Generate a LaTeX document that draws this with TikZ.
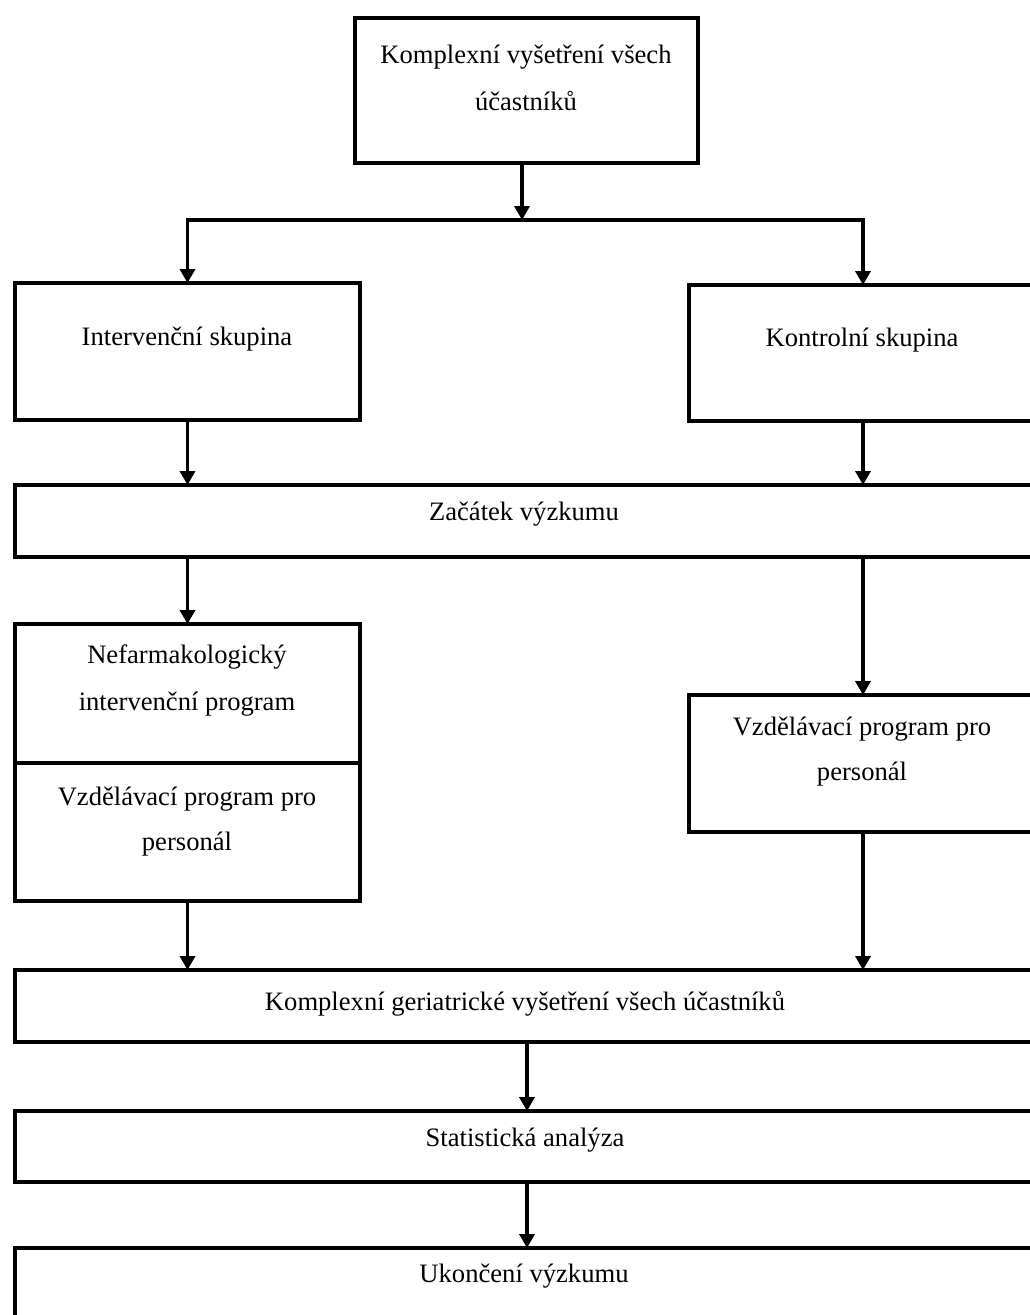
\documentclass[tikz,border=0pt]{standalone}
\usepackage{fontspec}
\setmainfont{Liberation Serif}
\usetikzlibrary{arrows.meta}
\begin{document}
\begin{tikzpicture}[x=1pt,y=-1pt,
  box/.style={draw,line width=4pt,inner sep=0pt,outer sep=0pt,rectangle},
  lbl/.style={anchor=base,inner sep=0pt,font=\fontsize{26.6}{30}\selectfont},
  arr/.style={line width=3.5pt,-{Triangle[length=14pt,width=15pt]}}]
\useasboundingbox (0,0) rectangle (1029,1315);
% boxes
\node[box,minimum width=343pt,minimum height=145pt] (top) at (526.5,90.5) {};
\node[box,minimum width=345pt,minimum height=137pt] (interv) at (187.5,351.5) {};
\node[box,minimum width=348pt,minimum height=136pt] (kontrol) at (863,353) {};
\node[box,minimum width=1030pt,minimum height=72pt] (zacatek) at (530,521) {};
\node[box,minimum width=345pt,minimum height=139pt] (nefarm) at (187.5,693.5) {};
\node[box,minimum width=345pt,minimum height=138pt] (vzdel1) at (187.5,832) {};
\node[box,minimum width=348pt,minimum height=137pt] (vzdel2) at (863,763.5) {};
\node[box,minimum width=1030pt,minimum height=72pt] (geri) at (530,1006) {};
\node[box,minimum width=1030pt,minimum height=71pt] (stat) at (530,1146.5) {};
\node[box,minimum width=1030pt,minimum height=92pt] (ukon) at (530,1294) {};
% texts
\node[lbl] (t1a) at (526,63) {Komplexní vyšetření všech};
\node[lbl] (t1b) at (526,110) {účastníků};
\node[lbl] (t2) at (187,345) {Intervenční skupina};
\node[lbl] (t3) at (862,346) {Kontrolní skupina};
\node[lbl] (t4) at (524,520) {Začátek výzkumu};
\node[lbl] (t5a) at (187,663) {Nefarmakologický};
\node[lbl] (t5b) at (187,710) {intervenční program};
\node[lbl] (t6a) at (187,805) {Vzdělávací program pro};
\node[lbl] (t6b) at (187,850) {personál};
\node[lbl] (t7a) at (862,735) {Vzdělávací program pro};
\node[lbl] (t7b) at (862,780) {personál};
\node[lbl] (t8) at (525,1010) {Komplexní geriatrické vyšetření všech účastníků};
\node[lbl] (t9) at (525,1146) {Statistická analýza};
\node[lbl] (t10) at (524,1282) {Ukončení výzkumu};
% connectors
\coordinate (split) at (522,220);
\coordinate (mid) at (527,1075);
\draw[arr] (top.south -| split) -- (split);
\draw[arr,line join=miter] (split) -| (interv.north);
\draw[arr,line join=miter] (split) -| (kontrol.north);
\draw[arr] (interv.south) -- (zacatek.north -| interv.south);
\draw[arr] (kontrol.south) -- (zacatek.north -| kontrol.south);
\draw[arr] (zacatek.south -| nefarm.north) -- (nefarm.north);
\draw[arr] (zacatek.south -| vzdel2.north) -- (vzdel2.north);
\draw[arr] (vzdel1.south) -- (geri.north -| vzdel1.south);
\draw[arr] (vzdel2.south) -- (geri.north -| vzdel2.south);
\draw[arr] (geri.south -| mid) -- (stat.north -| mid);
\draw[arr] (stat.south -| mid) -- (ukon.north -| mid);
\end{tikzpicture}
\end{document}
